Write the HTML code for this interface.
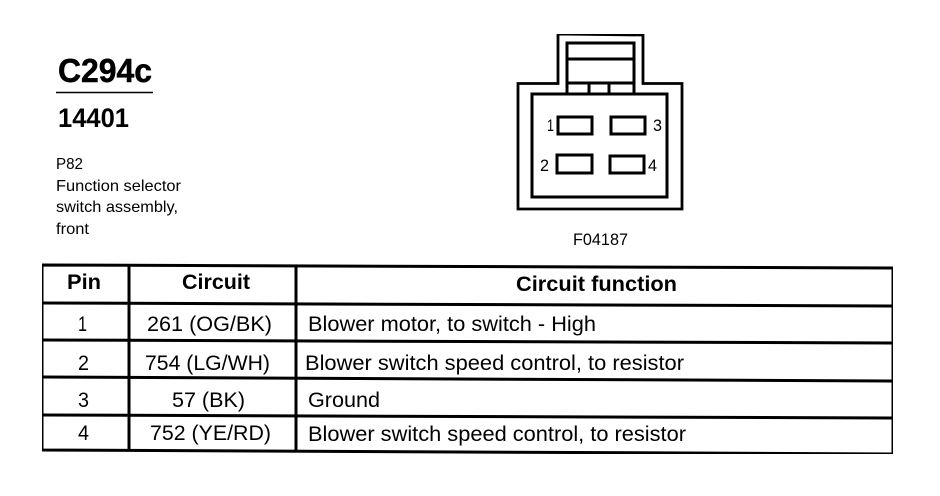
<!DOCTYPE html>
<html><head><meta charset="utf-8">
<style>html,body{margin:0;padding:0;background:#fff}svg{display:block}
text{font-family:"Liberation Sans",Arial,sans-serif;fill:#000}
.b{font-weight:bold}</style></head><body>
<svg width="940" height="496" viewBox="0 0 940 496" xmlns="http://www.w3.org/2000/svg">
<defs><filter id="t" x="0" y="0" width="100%" height="100%" color-interpolation-filters="sRGB"><feComponentTransfer><feFuncR type="discrete" tableValues="0 0 1 1"/><feFuncG type="discrete" tableValues="0 0 1 1"/><feFuncB type="discrete" tableValues="0 0 1 1"/></feComponentTransfer></filter></defs>
<rect width="940" height="496" fill="#fff"/>
<g filter="url(#t)">
<text class="b" x="58" y="82" font-size="33" textLength="94" lengthAdjust="spacingAndGlyphs" stroke="#000" stroke-width="0.5">C294c</text>
<line x1="56" y1="92.5" x2="153" y2="92.500" stroke="#000" stroke-width="1.6"/>
<text class="b" x="58" y="127" font-size="26.500" textLength="71" lengthAdjust="spacingAndGlyphs">14401</text>
<g font-size="16">
<text x="56" y="169" textLength="27" lengthAdjust="spacingAndGlyphs">P82</text>
<text x="56" y="191" textLength="125" lengthAdjust="spacingAndGlyphs">Function selector</text>
<text x="56" y="212" textLength="122" lengthAdjust="spacingAndGlyphs">switch assembly,</text>
<text x="56" y="234" textLength="33" lengthAdjust="spacingAndGlyphs">front</text>
</g>
<g fill="none" stroke="#000" stroke-width="2.8">
<path d="M558 34L643 35V83.500H682V209H518V83.500H558Z"/>
<rect x="532" y="94" width="135" height="103" stroke-width="3"/>
<path d="M567 94V43H634V94M567 59H634M567 83H634M589 83V94M609 83V94" stroke-width="3"/>
<rect x="558" y="117" width="34" height="17" stroke-width="3"/>
<rect x="611" y="117" width="34" height="17" stroke-width="3"/>
<rect x="557" y="155" width="35" height="18" stroke-width="3"/>
<rect x="610" y="156" width="34" height="17" stroke-width="3"/>
</g>
<g font-size="17">
<text x="547" y="131" textLength="7" lengthAdjust="spacingAndGlyphs">1</text><text x="653" y="131" textLength="9" lengthAdjust="spacingAndGlyphs">3</text>
<text x="540" y="171" textLength="9" lengthAdjust="spacingAndGlyphs">2</text><text x="648" y="171" textLength="9" lengthAdjust="spacingAndGlyphs">4</text>
<text x="573" y="245" textLength="55" lengthAdjust="spacingAndGlyphs">F04187</text>
</g>
<g stroke="#000" fill="none">
<path d="M42 265L893 268V454L42 450Z" stroke-width="3"/>
<path d="M42 303L893 306M42 340L893 343M42 377L893 381M42 415L893 418" stroke-width="3"/>
<path d="M129 265V450M296 266V451" stroke-width="3"/>
</g>
<g class="b" font-size="21" font-weight="bold">
<text x="67" y="289" textLength="34" lengthAdjust="spacingAndGlyphs">Pin</text>
<text x="182" y="289" textLength="68" lengthAdjust="spacingAndGlyphs">Circuit</text>
<text x="516" y="291" textLength="161" lengthAdjust="spacingAndGlyphs">Circuit function</text>
</g>
<g font-size="21">
<text x="78" y="331" textLength="9" lengthAdjust="spacingAndGlyphs">1</text><text x="78" y="370" textLength="11" lengthAdjust="spacingAndGlyphs">2</text><text x="78" y="407" textLength="11" lengthAdjust="spacingAndGlyphs">3</text><text x="78" y="440" textLength="11" lengthAdjust="spacingAndGlyphs">4</text>
<text x="147" y="331" textLength="125" lengthAdjust="spacingAndGlyphs">261 (OG/BK)</text>
<text x="145" y="370" textLength="125" lengthAdjust="spacingAndGlyphs">754 (LG/WH)</text>
<text x="172" y="407" textLength="73" lengthAdjust="spacingAndGlyphs">57 (BK)</text>
<text x="150" y="440" textLength="121" lengthAdjust="spacingAndGlyphs">752 (YE/RD)</text>
<text x="308" y="331" textLength="288" lengthAdjust="spacingAndGlyphs">Blower motor, to switch - High</text>
<text x="305" y="370" textLength="379" lengthAdjust="spacingAndGlyphs">Blower switch speed control, to resistor</text>
<text x="308" y="407" textLength="72" lengthAdjust="spacingAndGlyphs">Ground</text>
<text x="308" y="441" textLength="378" lengthAdjust="spacingAndGlyphs">Blower switch speed control, to resistor</text>
</g>
</g>
</svg>
</body></html>
